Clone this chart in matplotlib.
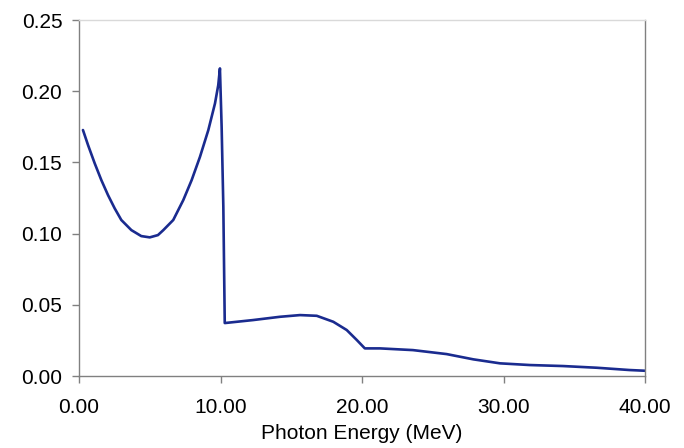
import matplotlib
matplotlib.use("Agg")
import matplotlib.pyplot as plt
from matplotlib.ticker import FormatStrFormatter

plt.rcParams['font.family'] = ['Liberation Sans', 'DejaVu Sans']

# photon energy (MeV) and value
energy = [0.28, 0.64, 1.11, 1.58, 2.05, 2.52, 2.99, 3.70, 4.40, 5.0, 5.58,
          5.96, 6.66, 7.37, 7.96, 8.55, 9.14, 9.61, 9.84, 9.96,
          10.08, 10.2, 10.3, 12.3, 14.2, 15.62, 16.8, 17.97, 18.92, 19.63,
          20.2, 21.27, 23.6, 25.98, 27.87, 29.75, 31.87, 34.2, 36.6, 38.9, 40.0]
value = [0.1728, 0.1622, 0.1494, 0.1376, 0.1271, 0.1178, 0.1096, 0.1025,
         0.0983, 0.0974, 0.0990, 0.1025, 0.1096, 0.1236, 0.1376, 0.1540,
         0.1728, 0.1915, 0.2043, 0.2161,
         0.175, 0.119, 0.0372, 0.0393, 0.0416, 0.0428, 0.0423, 0.0381, 0.0323,
         0.0253, 0.0194, 0.0194, 0.0182, 0.0154, 0.0117, 0.0089, 0.0077,
         0.0070, 0.0058, 0.0042, 0.0037]

fig = plt.figure(figsize=(6.84, 4.48), dpi=100)
ax = fig.add_axes([0.1155, 0.1607, 0.8275, 0.7943])

ax.plot(energy, value, color='#1a2b8f', linewidth=1.9,
        solid_joinstyle='round', solid_capstyle='round')

ax.set_xlim(0, 40)
ax.set_ylim(0, 0.25)
ax.set_xticks([0, 10, 20, 30, 40])
ax.set_yticks([0, 0.05, 0.10, 0.15, 0.20, 0.25])
ax.xaxis.set_major_formatter(FormatStrFormatter('%.2f'))
ax.yaxis.set_major_formatter(FormatStrFormatter('%.2f'))

for side in ['left', 'bottom', 'right']:
    ax.spines[side].set_color('#808080')
    ax.spines[side].set_linewidth(1.0)
ax.spines['top'].set_color('#d9d9d9')
ax.spines['top'].set_linewidth(1.0)

ax.tick_params(axis='x', direction='out', length=5, width=1, color='#808080',
               labelsize=15, pad=11)
ax.tick_params(axis='y', direction='out', length=5, width=1, color='#808080',
               labelsize=15, pad=7)
ax.set_xlabel('Photon Energy (MeV)', fontsize=15, labelpad=5)

fig.savefig('out.png', dpi=100)
